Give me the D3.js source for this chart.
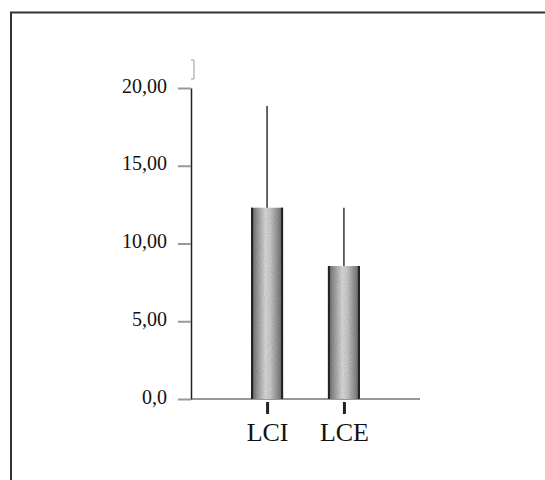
<!DOCTYPE html>
<html lang="en">
<head>
<meta charset="UTF-8">
<title>LCI vs LCE</title>
<style>
    body { margin: 0; background: #fff; overflow: hidden; }
    svg text { font-family: "Liberation Serif", "Times New Roman", serif; fill: #111; }
</style>
</head>
<body>
<div id="chart"></div>
<script src="https://d3js.org/d3.v7.min.js"></script>
<script>
    // Data
    const categories = ["LCI", "LCE"];
    const means = [12.3, 8.55];
    const errorTops = [18.85, 12.3];   // mean + SD
    const yTicks = [0, 5, 10, 15, 20];
    const yTickLabels = ["0,0", "5,00", "10,00", "15,00", "20,00"];

    const W = 545, H = 480;

    const svg = d3.select("#chart").append("svg")
        .attr("width", W)
        .attr("height", H)
        .style("display", "block");

    // gradient for the cylinder-looking bars
    const defs = svg.append("defs");
    const grad = defs.append("linearGradient")
        .attr("id", "barGrad")
        .attr("x1", "0%").attr("x2", "100%")
        .attr("y1", "0%").attr("y2", "0%");
    [[0, "#5a5a5a"], [0.12, "#8c8c8c"], [0.45, "#e2e2e2"], [0.6, "#d2d2d2"], [0.88, "#8a8a8a"], [1, "#5a5a5a"]]
        .forEach(([o, c]) => grad.append("stop").attr("offset", o).attr("stop-color", c));

    // grain, like the printed screen of the original
    const grain = defs.append("filter").attr("id", "grain");
    grain.append("feTurbulence")
        .attr("type", "fractalNoise")
        .attr("baseFrequency", 0.9)
        .attr("numOctaves", 2)
        .attr("seed", 3)
        .attr("result", "noise");
    grain.append("feColorMatrix")
        .attr("in", "noise")
        .attr("type", "matrix")
        .attr("values", "0 0 0 0 0  0 0 0 0 0  0 0 0 0 0  0 0 0 0.35 0")
        .attr("result", "dots");
    grain.append("feComposite")
        .attr("in", "dots")
        .attr("in2", "SourceGraphic")
        .attr("operator", "in")
        .attr("result", "dotsIn");
    grain.append("feMerge").selectAll("feMergeNode")
        .data(["SourceGraphic", "dotsIn"])
        .join("feMergeNode")
        .attr("in", d => d);

    // outer frame: only the top and left edges are in view
    svg.append("path")
        .attr("d", `M11,${H} V12.5 H${W}`)
        .attr("fill", "none")
        .attr("stroke", "#333")
        .attr("stroke-width", 2);

    const y = d3.scaleLinear().domain([0, 20]).range([399, 88]);
    const x = d3.scalePoint().domain(categories).range([191, 420]).padding(0.99);
    const barW = 32;

    // y axis
    const yAxis = svg.append("g")
        .attr("transform", "translate(191,0)")
        .call(d3.axisLeft(y)
            .tickValues(yTicks)
            .tickFormat((d, i) => yTickLabels[i])
            .tickSize(13)
            .tickSizeOuter(0)
            .tickPadding(11));
    yAxis.select(".domain").attr("stroke", "#222").attr("stroke-width", 1.5);
    yAxis.selectAll(".tick line").attr("stroke", "#999").attr("stroke-width", 2);
    yAxis.selectAll(".tick text")
        .attr("dy", "0.2em")
        .style("font-size", "20px");

    // x axis baseline
    svg.append("line")
        .attr("x1", 191).attr("x2", 420)
        .attr("y1", y(0)).attr("y2", y(0))
        .attr("stroke", "#333")
        .attr("stroke-width", 1.2);

    // bars
    const bars = svg.append("g");
    bars.selectAll("rect")
        .data(categories)
        .join("rect")
        .attr("x", d => x(d) - barW / 2)
        .attr("y", (d, i) => y(means[i]))
        .attr("width", barW)
        .attr("height", (d, i) => y(0) - y(means[i]))
        .attr("fill", "url(#barGrad)")
        .attr("filter", "url(#grain)");

    // dark side edges of the bars
    categories.forEach((c, i) => {
        [-1, 1].forEach(s => {
            bars.append("line")
                .attr("x1", x(c) + s * (barW / 2 - 1))
                .attr("x2", x(c) + s * (barW / 2 - 1))
                .attr("y1", y(means[i]))
                .attr("y2", y(0))
                .attr("stroke", "#222")
                .attr("stroke-width", 2);
        });
    });

    // error bars (upper only)
    svg.append("g").selectAll("line")
        .data(categories)
        .join("line")
        .attr("x1", d => x(d)).attr("x2", d => x(d))
        .attr("y1", (d, i) => y(means[i]))
        .attr("y2", (d, i) => y(errorTops[i]))
        .attr("stroke", "#333")
        .attr("stroke-width", 1.5);

    // category axis (ticks sit a little below the baseline)
    const xAxis = svg.append("g")
        .attr("transform", "translate(0,402)")
        .call(d3.axisBottom(x).tickSize(12).tickSizeOuter(0).tickPadding(9));
    xAxis.select(".domain").remove();
    xAxis.selectAll(".tick line").attr("stroke", "#222").attr("stroke-width", 3);
    xAxis.selectAll(".tick text").style("font-size", "26px");

    // small bracket mark above the y axis
    svg.append("path")
        .attr("d", "M191,60 H194 V79 H191")
        .attr("fill", "none")
        .attr("stroke", "#999")
        .attr("stroke-width", 1);
</script>
</body>
</html>
